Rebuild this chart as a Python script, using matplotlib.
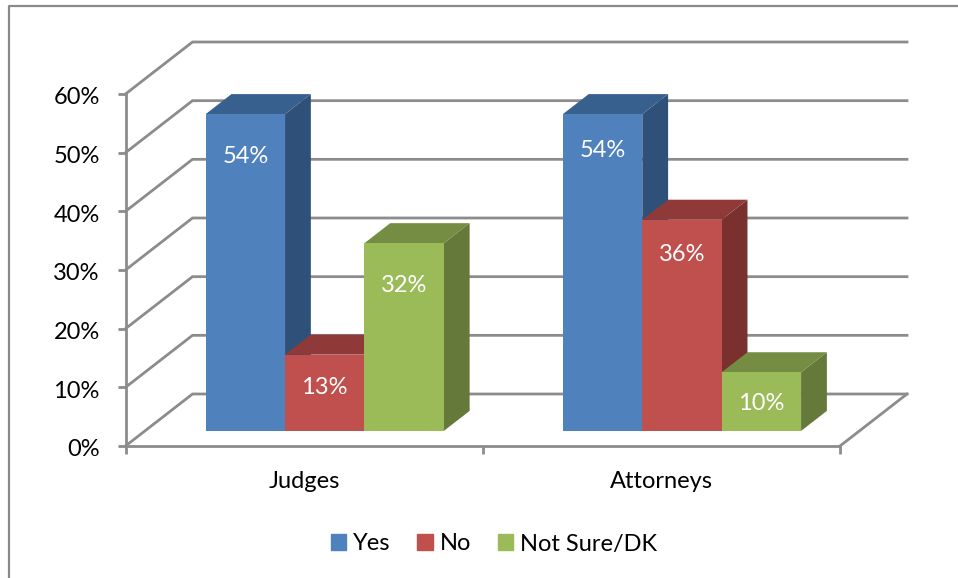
import matplotlib
matplotlib.use('Agg')
import matplotlib.pyplot as plt
from matplotlib.lines import Line2D
from matplotlib.patches import Patch
from matplotlib.transforms import ScaledTranslation

plt.rcParams['font.family'] = ['Lato', 'DejaVu Sans']

categories = ['Judges', 'Attorneys']
series = ['Yes', 'No', 'Not Sure/DK']
yes = [54, 54]
no = [13, 36]
not_sure = [32, 10]
y_ticks = [0, 10, 20, 30, 40, 50, 60]

front_colors = ['#4F81BD', '#C0504D', '#9BBB59']
side_colors = ['#2F5078', '#7A302E', '#64793A']
top_colors = ['#38608F', '#8F3A38', '#748D43']
grid_color = '#8C8C8C'
font_size = 17
line_w = 2.0

W, H = 958, 578
fig = plt.figure(figsize=(W / 100, H / 100), dpi=100)
ax = fig.add_axes([125.5 / W, (H - 446) / H, 714.5 / W, 352 / H])
ax.set_xlim(0, 2)
ax.set_ylim(0, 60)

# oblique depth of the 3D box, in data units for a depth of 1
depth_x = 67 / (714.5 / 2)
depth_y = 52 / (352 / 60)


def project(x, y, d):
    return x + d * depth_x, y + d * depth_y


def face(points, color, z):
    xs, ys = zip(*[project(*p) for p in points])
    ax.fill(xs, ys, color=color, lw=0, zorder=z, clip_on=False)


# walls and floor
for t in y_ticks:
    x0, y0 = project(0, t, 1)
    x1, y1 = project(2, t, 1)
    ax.plot([0, x0, x1], [t, y0, y1], color=grid_color, lw=line_w, zorder=1,
            clip_on=False, solid_joinstyle='miter')
x0, y0 = project(2, 0, 1)
ax.plot([2, x0], [0, y0], color=grid_color, lw=line_w, zorder=1, clip_on=False)

# bars, left to right so that each one overlaps the side of the one before
bar_w = 1 / 4.5
d_front = 0.29
d_back = 0.675
label_drop = [[42, 33, 42], [36, 35, 31]]  # px below bar top
values = [yes, no, not_sure]
z = 3
for c in range(len(categories)):
    start = c + 0.17
    for s in range(len(series)):
        v = values[s][c]
        a = start + s * bar_w
        b = a + bar_w
        face([(a, 0, d_front), (b, 0, d_front), (b, v, d_front), (a, v, d_front)], front_colors[s], z + 2)
        face([(b, 0, d_front), (b, 0, d_back), (b, v, d_back), (b, v, d_front)], side_colors[s], z)
        face([(a, v, d_front), (b, v, d_front), (b, v, d_back), (a, v, d_back)], top_colors[s], z + 1)
        lx, ly = project((a + b) / 2, v - label_drop[c][s] / (352 / 60), d_front)
        ax.text(lx, ly, f'{v}%', color='white', fontsize=font_size, ha='center', va='center', zorder=20)
        z += 3

for side in ['top', 'right']:
    ax.spines[side].set_visible(False)
for side in ['left', 'bottom']:
    ax.spines[side].set_color(grid_color)
    ax.spines[side].set_linewidth(line_w)
    ax.spines[side].set_zorder(2)

ax.set_yticks(y_ticks)
ax.set_yticklabels([f'{t}%' for t in y_ticks], fontsize=font_size)
ax.tick_params(axis='y', length=6, width=line_w, color=grid_color, pad=12.5)
for lab in ax.get_yticklabels():
    lab.set_transform(lab.get_transform() + ScaledTranslation(0, -2 / 100, fig.dpi_scale_trans))
ax.set_xticks([0, 1, 2])
ax.set_xticklabels([])
ax.tick_params(axis='x', length=6, width=line_w, color=grid_color)
ax.set_xticks([0.5, 1.5], minor=True)
ax.set_xticklabels(categories, minor=True, fontsize=font_size)
ax.tick_params(axis='x', which='minor', length=0, pad=18)
ax.patch.set_visible(False)

handles = [Patch(color=col, label=lab) for col, lab in zip(front_colors, series)]
fig.legend(handles=handles, ncols=3, frameon=False, fontsize=font_size, loc='center',
           bbox_to_anchor=(494 / W, 1 - 544 / H), handlelength=0.64, handleheight=0.64,
           handletextpad=0.3, columnspacing=1.15)

# chart frame, cut off on the right and bottom
fig.add_artist(Line2D([8.5 / W, 8.5 / W, 1], [0, 1 - 6 / H, 1 - 6 / H], color='#8A8A8A', lw=1.6))

fig.savefig('out.png', dpi=100)
